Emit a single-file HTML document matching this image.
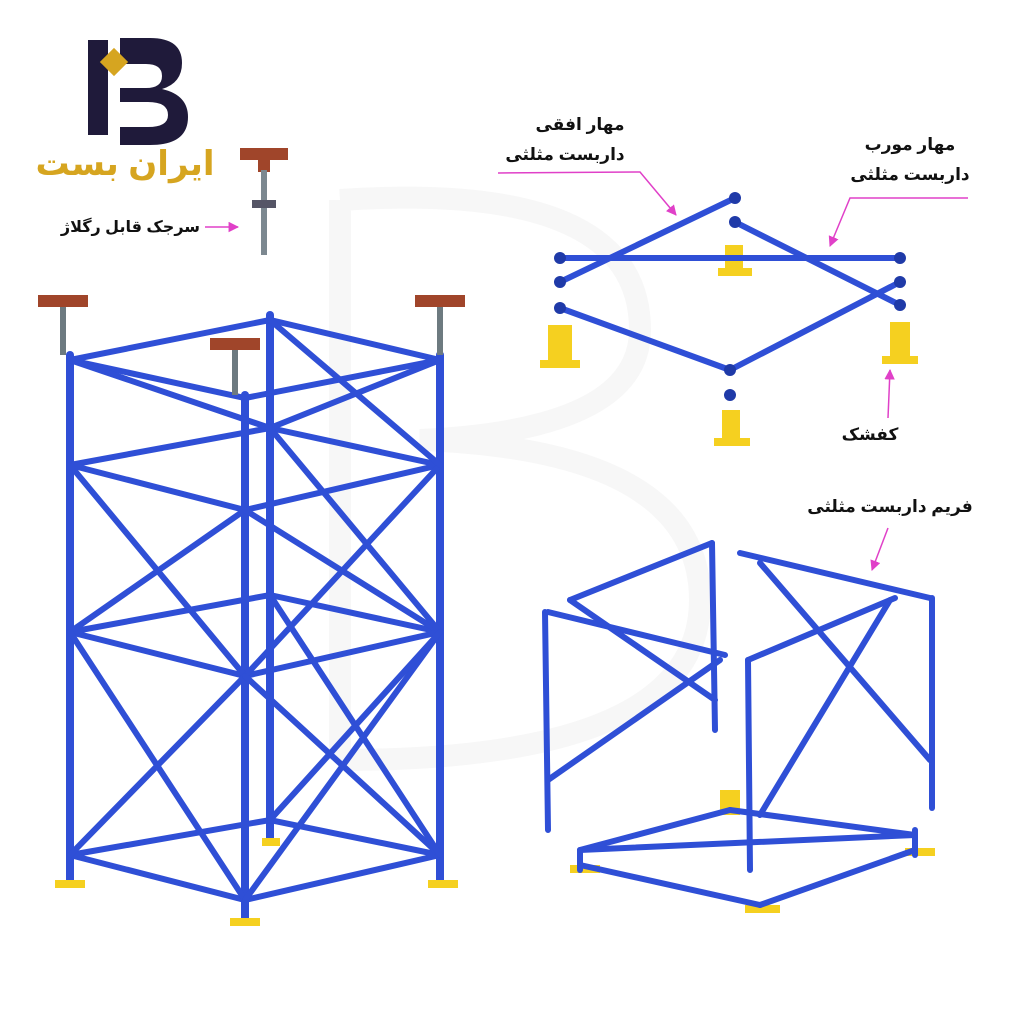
<!DOCTYPE html>
<html><head><meta charset="utf-8"><style>
html,body{margin:0;padding:0;background:#fff;width:1024px;height:1024px;overflow:hidden}
svg{display:block}
text{font-family:"Liberation Sans","DejaVu Sans",sans-serif}
</style></head><body>
<svg width="1024" height="1024" viewBox="0 0 1024 1024" xmlns="http://www.w3.org/2000/svg">
<defs>
<marker id="ar" viewBox="0 0 10 10" refX="9" refY="5" markerWidth="7" markerHeight="7" orient="auto"><path d="M0,0L10,5L0,10z" fill="#e040c8"/></marker>
</defs>
<g fill="none" stroke="#f7f7f7" stroke-width="22">
<path d="M340 200 L340 760 M340 200 Q640 180 640 330 Q640 430 420 440 Q700 450 700 600 Q700 760 340 760"/>
</g>
<g>
<path d="M88 40 h20 v95 h-20z" fill="#1f1a3a"/>
<path d="M120 38 h30 q32 0 32 25 q0 20 -20 26 q26 6 26 28 q0 28 -38 28 h-30 v-18 h28 q20 0 20 -12 q0 -13 -20 -13 h-28 v-14 h26 q16 0 16 -12 q0 -12 -16 -12 h-26z" fill="#1f1a3a"/>
<rect x="104" y="52" width="20" height="20" fill="#d6a520" transform="rotate(45 114 62)"/>
<text x="125" y="175" font-size="34" font-weight="bold" fill="#d6a520" text-anchor="middle">ایران بست</text>
</g>
<rect x="240" y="148" width="48" height="12" fill="#a0452a"/>
<rect x="258" y="160" width="12" height="12" fill="#a0452a"/>
<line x1="264" y1="170" x2="264" y2="255" stroke="#7c8890" stroke-width="6"/>
<rect x="252" y="200" width="24" height="8" fill="#556"/>
<text x="200" y="232" font-size="16" font-weight="bold" text-anchor="end" fill="#111">سرجک قابل رگلاژ</text>
<line x1="205" y1="227" x2="238" y2="227" stroke="#e040c8" stroke-width="1.5" marker-end="url(#ar)"/>

<g stroke="#2f4fd6" stroke-linecap="round">
<g stroke-width="8">
<line x1="70" y1="355" x2="70" y2="880"/>
<line x1="245" y1="395" x2="245" y2="918"/>
<line x1="440" y1="355" x2="440" y2="880"/>
<line x1="270" y1="315" x2="270" y2="840"/>
</g>
<g stroke-width="6">
<path d="M70 360 L245 398 L440 360 L270 320 Z" fill="none"/>
<path d="M70 465 L245 510 L440 465 L270 428 Z" fill="none"/>
<path d="M70 632 L245 676 L440 632 L270 595 Z" fill="none"/>
<path d="M70 855 L245 900 L440 855 L270 820 Z" fill="none"/>
<line x1="70" y1="465" x2="245" y2="676"/><line x1="245" y1="510" x2="70" y2="632"/>
<line x1="70" y1="632" x2="245" y2="900"/><line x1="245" y1="676" x2="70" y2="855"/>
<line x1="245" y1="510" x2="440" y2="632"/><line x1="440" y1="465" x2="245" y2="676"/>
<line x1="245" y1="676" x2="440" y2="855"/><line x1="440" y1="632" x2="245" y2="900"/>
<line x1="270" y1="320" x2="440" y2="465"/><line x1="440" y1="360" x2="270" y2="428"/>
<line x1="270" y1="428" x2="440" y2="632"/><line x1="270" y1="595" x2="440" y2="855"/>
<line x1="440" y1="632" x2="270" y2="820"/>
<line x1="70" y1="360" x2="270" y2="428"/>
</g>
</g>
<g fill="#a0452a">
<rect x="38" y="295" width="50" height="12"/><rect x="415" y="295" width="50" height="12"/><rect x="210" y="338" width="50" height="12"/>
</g>
<g stroke="#6d7a80" stroke-width="6">
<line x1="63" y1="307" x2="63" y2="355"/><line x1="440" y1="307" x2="440" y2="355"/><line x1="235" y1="350" x2="235" y2="395"/>
</g>
<g fill="#f5d020">
<rect x="55" y="880" width="30" height="8"/><rect x="230" y="918" width="30" height="8"/><rect x="428" y="880" width="30" height="8"/><rect x="262" y="838" width="18" height="8"/>
</g>

<text x="580" y="130" font-size="17" font-weight="bold" text-anchor="middle" fill="#111">مهار افقی</text>
<text x="565" y="160" font-size="17" font-weight="bold" text-anchor="middle" fill="#111">داربست مثلثی</text>
<path d="M498 173 L640 172 L676 215" fill="none" stroke="#e040c8" stroke-width="1.5" marker-end="url(#ar)"/>
<text x="910" y="150" font-size="17" font-weight="bold" text-anchor="middle" fill="#111">مهار مورب</text>
<text x="910" y="180" font-size="17" font-weight="bold" text-anchor="middle" fill="#111">داربست مثلثی</text>
<path d="M968 198 L850 198 L830 246" fill="none" stroke="#e040c8" stroke-width="1.5" marker-end="url(#ar)"/>
<g fill="#f5d020"><rect x="548" y="325" width="24" height="40"/><rect x="540" y="360" width="40" height="8"/>
<rect x="725" y="245" width="18" height="25"/><rect x="718" y="268" width="34" height="8"/>
<rect x="890" y="322" width="20" height="38"/><rect x="882" y="356" width="36" height="8"/>
<rect x="722" y="410" width="18" height="30"/><rect x="714" y="438" width="36" height="8"/></g>
<g stroke="#2f4fd6" stroke-width="6" stroke-linecap="round">
<line x1="560" y1="258" x2="900" y2="258"/>
<line x1="560" y1="282" x2="735" y2="198"/>
<line x1="735" y1="222" x2="900" y2="305"/>
<line x1="560" y1="308" x2="730" y2="370"/>
<line x1="730" y1="370" x2="900" y2="282"/>
</g>
<g fill="#1f3aa8"><circle cx="560" cy="258" r="6"/><circle cx="560" cy="282" r="6"/><circle cx="560" cy="308" r="6"/><circle cx="735" cy="198" r="6"/><circle cx="735" cy="222" r="6"/><circle cx="900" cy="258" r="6"/><circle cx="900" cy="282" r="6"/><circle cx="900" cy="305" r="6"/><circle cx="730" cy="370" r="6"/><circle cx="730" cy="395" r="6"/></g>
<text x="870" y="440" font-size="17" font-weight="bold" text-anchor="middle" fill="#111">کفشک</text>
<line x1="888" y1="418" x2="890" y2="370" stroke="#e040c8" stroke-width="1.5" marker-end="url(#ar)"/>

<text x="890" y="512" font-size="17" font-weight="bold" text-anchor="middle" fill="#111">فریم داربست مثلثی</text>
<line x1="888" y1="528" x2="872" y2="570" stroke="#e040c8" stroke-width="1.5" marker-end="url(#ar)"/>
<g fill="#f5d020"><rect x="720" y="790" width="20" height="25"/><rect x="570" y="865" width="30" height="8"/><rect x="745" y="905" width="35" height="8"/><rect x="905" y="848" width="30" height="8"/></g>
<g stroke="#2f4fd6" stroke-width="6" stroke-linecap="round">
<line x1="545" y1="612" x2="548" y2="830"/>
<line x1="712" y1="543" x2="715" y2="730"/>
<line x1="570" y1="600" x2="712" y2="543"/>
<line x1="548" y1="612" x2="725" y2="655"/>
<line x1="570" y1="600" x2="715" y2="700"/>
<line x1="548" y1="780" x2="720" y2="660"/>
<line x1="740" y1="553" x2="930" y2="598"/>
<line x1="748" y1="660" x2="895" y2="598"/>
<line x1="748" y1="660" x2="750" y2="870"/>
<line x1="932" y1="598" x2="932" y2="808"/>
<line x1="760" y1="563" x2="930" y2="760"/>
<line x1="890" y1="600" x2="760" y2="815"/>
<line x1="580" y1="850" x2="730" y2="810"/>
<line x1="730" y1="810" x2="915" y2="835"/>
<line x1="580" y1="850" x2="915" y2="835"/>
<line x1="580" y1="865" x2="760" y2="905"/>
<line x1="760" y1="905" x2="915" y2="850"/>
<line x1="580" y1="850" x2="580" y2="870"/>
<line x1="915" y1="830" x2="915" y2="855"/>
</g>
</svg>
</body></html>
